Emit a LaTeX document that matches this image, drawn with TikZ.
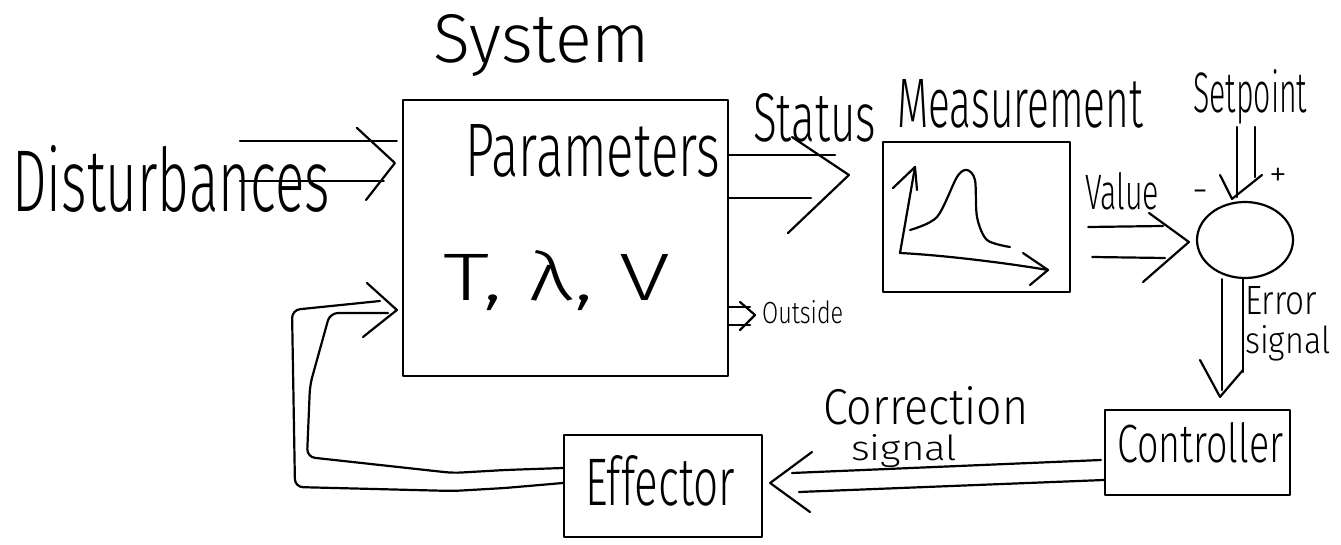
\documentclass[tikz,border=0pt]{standalone}
\usepackage{graphicx}
\usepackage{fontspec}
\setmainfont{Fira Sans Light}
\usetikzlibrary{calc,shapes.geometric}
\newcommand\hwtext[3]{\resizebox{#1pt}{#2pt}{#3}}
\begin{document}
\begin{tikzpicture}[x=1pt,y=-1pt,
  pen/.style={line width=2.2pt, line cap=round, line join=round},
  box/.style={pen, draw, rectangle, inner sep=0pt},
  lbl/.style={anchor=base west, inner sep=0pt},
]
\useasboundingbox[fill=white] (0,0) rectangle (1341,545);

% ---------- boxes ----------
\node[box, minimum width=325pt, minimum height=276pt] (sys) at (565.5,238) {};
\node[box, minimum width=187pt, minimum height=150pt] (meas) at (976.5,217) {};
\node[pen, draw, ellipse, minimum width=96pt, minimum height=76pt, inner sep=0pt] (sum) at (1245,240) {};
\node[box, minimum width=185pt, minimum height=85pt] (ctrl) at (1197.5,452.5) {};
\node[box, minimum width=198pt, minimum height=102pt] (eff) at (663,486) {};

% ---------- texts ----------
\node[lbl] (tsys) at (433,63) {\hwtext{217}{48}{System}};
\node[lbl] (tdist) at (12,212) {\hwtext{318}{66}{Disturbances}};
\node[lbl] (tpar) at (465,177) {\hwtext{255}{52}{Parameters}};
\node[lbl] (tvar) at (443,300) {\hwtext{227}{50}{T, λ, V}};
\node[lbl] (tstat) at (753,142) {\hwtext{123}{48}{Status}};
\node[lbl] (tmeas) at (897,128) {\hwtext{246}{48}{Measurement}};
\node[lbl] (tset) at (1193,113) {\hwtext{114}{43}{Setpoint}};
\node[lbl] (tval) at (1085,210) {\hwtext{74}{37}{Value}};
\node[lbl] (tout) at (762,323) {\hwtext{81}{23}{Outside}};
\node[lbl] (terr1) at (1245,315) {\hwtext{72}{28}{Error}};
\node[lbl] (terr2) at (1245,353) {\hwtext{85}{28}{signal}};
\node[lbl] (tcor1) at (823,424) {\hwtext{205}{38}{Correction}};
\node[lbl] (tcor2) at (851,460) {\hwtext{106}{26}{signal}};
\node[lbl] (tctrl) at (1117,462) {\hwtext{166}{40}{Controller}};
\node[lbl] (teff) at (585,505) {\hwtext{150}{50}{Effector}};
\node[inner sep=0pt] (tminus) at (1201,197) {\fontsize{40}{40}\selectfont -};
\node[inner sep=0pt] (tplus) at (1278,177) {\fontsize{36}{36}\selectfont +};

% ---------- free ends ----------
\coordinate (d1) at (240,141);
\coordinate (d2) at (240,181);
\coordinate (s1) at (1237,127);
\coordinate (s2) at (1255,127);

% ---------- Disturbances -> System ----------
\draw[pen] (d1) -- ($(sys.west |- d1)+(-5,0)$);
\draw[pen] (d2) -- ($(sys.west |- d2)+(-18,0)$);
\draw[pen] (357,128) -- ($(sys.west |- 0,163)+(-7,0)$) -- (366,200);

% ---------- System -> Measurement (Status) ----------
\draw[pen] (sys.east |- 0,155) -- (835,155);
\draw[pen] (sys.east |- 0,198) -- (811,198);
\draw[pen] (792,137) -- ($(meas.west |- 0,175)+(-33,0)$) -- (788,233);

% ---------- Measurement -> sum (Value) ----------
\draw[pen] ($(meas.east |- 0,227)+(17,0)$) -- (1163,226);
\draw[pen] ($(meas.east |- 0,257)+(21,0)$) -- (1165,258);
\draw[pen] (1149,213) -- ($(sum.west)+(-7,2)$) -- (1143,282);

% ---------- Setpoint -> sum ----------
\draw[pen] (s1) -- (1237,197);
\draw[pen] (s2) -- (1255,177);
\draw[pen] (1220,175) -- ($(sum.north)+(-13,-2)$) -- (1262,175);

% ---------- sum -> Controller (Error signal) ----------
\draw[pen] ($(sum.south)+(-23,0)$) -- (1222,390);
\draw[pen] ($(sum.south)+(-2,0)$) -- (1243,372);
\draw[pen] (1200,360) -- ($(ctrl.north)+(22.5,-12)$) -- (1243,370);

% ---------- Controller -> Effector (Correction signal) ----------
\draw[pen] ($(ctrl.west)+(-3,7.5)$) -- (792,473);
\draw[pen] ($(ctrl.west)+(0,27.5)$) -- (799,492);
\draw[pen] (812,452) -- ($(eff.east)+(7,-3)$) -- (810,512);

% ---------- Effector -> System (feedback) ----------
\draw[pen, rounded corners=8pt] ($(eff.west)+(0,-3)$) -- (505,488) -- (453,491) -- (295,487) -- (292,310) -- (380,301);
\draw[pen, rounded corners=8pt] ($(eff.west)+(0,-18)$) -- (505,470) -- (453,473) -- (307,457) -- (310,385) -- (330,313) -- (388,313);
\draw[pen] (367,283) -- ($(sys.west |- 0,310)+(-5,0)$) -- (363,337);

% ---------- System -> Outside ----------
\draw[pen] (sys.east |- 0,307) -- (750,307);
\draw[pen] (sys.east |- 0,325) -- (750,325);
\draw[pen] (740,302) -- ($(tout.west |- 0,315)+(-7,0)$) -- (740,330);

% ---------- plot inside Measurement ----------
\draw[pen] (900,253) -- (915,167);
\draw[pen] (893,188) -- (915,167) -- (917,190);
\draw[pen] (900,253) .. controls (940,255) and (1000,262) .. (1048,270);
\draw[pen] (1023,253) -- (1048,270) -- (1030,285);
\draw[pen] plot[smooth] coordinates {(910,230) (937,217) (957,177) (967,170) (975,180) (977,217) (987,240) (1010,247)};
\end{tikzpicture}
\end{document}
